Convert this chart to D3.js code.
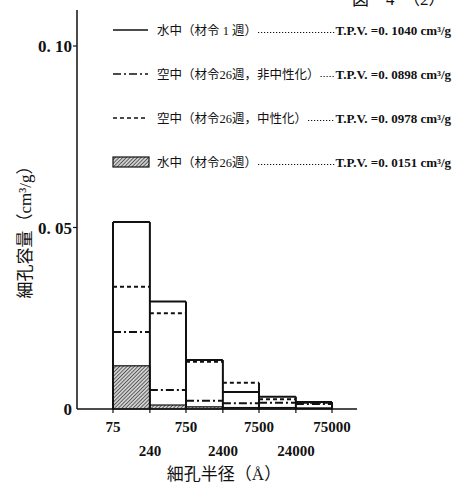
<!DOCTYPE html>
<html>
<head>
<meta charset="utf-8">
<script src="https://cdn.jsdelivr.net/npm/d3@7"></script>
<style>
  body { margin: 0; background: #fff; }
  text { font-family: "Liberation Serif", "Noto Sans CJK JP", serif; fill: #111; }
  .num { font-weight: bold; }
</style>
</head>
<body>
<svg id="chart" width="452" height="486"></svg>
<script>
// bin edges (pore radius, A)
var edges = [75, 240, 750, 2400, 7500, 24000, 75000];
var edgeLabels = ['75', '240', '750', '2400', '7500', '24000', '75000'];

// pore volume per bin (cm3/g)
var water1w = [0.0515, 0.0296, 0.0135, 0.0047, 0.0034, 0.0019];
var airNonNeutral = [0.0212, 0.0052, 0.0023, 0.0016, 0.0017, 0.0014];
var airNeutral = [0.0337, 0.0264, 0.0130, 0.0072, 0.0027, 0.0017];
var water26w = [0.0119, 0.0011, 0.0006, 0.0004, 0.0004, 0.0003];

var yTicks = [0, 0.05, 0.10];
var yTickLabels = ['0', '0. 05', '0. 10'];

var legendNames = ['水中（材令 1 週）', '空中（材令26週，非中性化）', '空中（材令26週，中性化）', '水中（材令26週）'];
var legendTPV = ['T.P.V. =0. 1040 cm³/g', 'T.P.V. =0. 0898 cm³/g', 'T.P.V. =0. 0978 cm³/g', 'T.P.V. =0. 0151 cm³/g'];

var svg = d3.select('#chart');

var x = d3.scaleLog().domain([75, 75000]).range([113, 332]);
var y = d3.scaleLinear().domain([0, 0.1]).range([409, 46]);

var defs = svg.append('defs');
var pat = defs.append('pattern')
  .attr('id', 'hatch')
  .attr('patternUnits', 'userSpaceOnUse')
  .attr('width', 2.6).attr('height', 2.6)
  .attr('patternTransform', 'rotate(45)');
pat.append('rect').attr('width', 2.6).attr('height', 2.6).attr('fill', '#cfcfcf');
pat.append('line').attr('x1', 0).attr('y1', 0).attr('x2', 0).attr('y2', 2.6)
  .attr('stroke', '#2a2a2a').attr('stroke-width', 1.3);

var series = [
  { values: water1w, dash: null },
  { values: airNonNeutral, dash: '8,3,2,3' },
  { values: airNeutral, dash: '4,3' }
];

var bins = d3.range(edges.length - 1).map(function(i) {
  return {
    x0: edges[i], x1: edges[i + 1],
    top: d3.max(series, function(s) { return s.values[i]; })
  };
});

// hatched bars
svg.selectAll('rect.hatch')
  .data(water26w)
  .enter().append('rect')
    .attr('class', 'hatch')
    .attr('x', function(d, i) { return x(edges[i]); })
    .attr('width', function(d, i) { return x(edges[i + 1]) - x(edges[i]); })
    .attr('y', function(d) { return y(d); })
    .attr('height', function(d) { return y(0) - y(d); })
    .attr('fill', 'url(#hatch)')
    .attr('stroke', '#111')
    .attr('stroke-width', 1.2);

// vertical bin sides
svg.selectAll('line.side')
  .data(edges)
  .enter().append('line')
    .attr('class', 'side')
    .attr('x1', function(d) { return x(d); })
    .attr('x2', function(d) { return x(d); })
    .attr('y1', y(0))
    .attr('y2', function(d, i) {
      var l = bins[i - 1] ? bins[i - 1].top : 0
        , r = bins[i] ? bins[i].top : 0;
      return y(Math.max(l, r));
    })
    .attr('stroke', '#111')
    .attr('stroke-width', 2);

// horizontal levels for each series
series.forEach(function(s) {
  svg.append('g').selectAll('line')
    .data(s.values)
    .enter().append('line')
      .attr('x1', function(d, i) { return x(edges[i]); })
      .attr('x2', function(d, i) { return x(edges[i + 1]); })
      .attr('y1', function(d) { return y(d); })
      .attr('y2', function(d) { return y(d); })
      .attr('stroke', '#111')
      .attr('stroke-width', 2)
      .attr('stroke-dasharray', s.dash);
});

// axes
svg.append('line')
  .attr('x1', 77).attr('x2', 77).attr('y1', 10).attr('y2', y(0))
  .attr('stroke', '#111').attr('stroke-width', 1.5);
svg.append('line')
  .attr('x1', 77).attr('x2', 357).attr('y1', y(0)).attr('y2', y(0))
  .attr('stroke', '#111').attr('stroke-width', 1.5);

svg.selectAll('line.ytick')
  .data(yTicks.slice(1))
  .enter().append('line')
    .attr('x1', 73).attr('x2', 77)
    .attr('y1', y).attr('y2', y)
    .attr('stroke', '#111').attr('stroke-width', 1.2);

svg.selectAll('text.ylab')
  .data(yTicks)
  .enter().append('text')
    .attr('class', 'num')
    .attr('x', 72)
    .attr('y', function(d) { return y(d) + 6; })
    .attr('text-anchor', 'end')
    .style('font-size', '17px')
    .text(function(d, i) { return yTickLabels[i]; });

svg.selectAll('line.xtick')
  .data(edges)
  .enter().append('line')
    .attr('x1', x).attr('x2', x)
    .attr('y1', y(0)).attr('y2', y(0) + 4)
    .attr('stroke', '#111').attr('stroke-width', 1.2);

svg.selectAll('text.xlab')
  .data(edges)
  .enter().append('text')
    .attr('class', 'num')
    .attr('x', x)
    .attr('y', function(d, i) { return i % 2 ? 456 : 432; })
    .attr('text-anchor', 'middle')
    .style('font-size', '15px')
    .text(function(d, i) { return edgeLabels[i]; });

svg.append('text')
  .attr('x', 224).attr('y', 480)
  .attr('text-anchor', 'middle')
  .style('font-size', '17px')
  .text('細孔半径（Å）');

svg.append('text')
  .attr('transform', 'translate(31,228) rotate(-90)')
  .attr('text-anchor', 'middle')
  .style('font-size', '17px')
  .text('細孔容量（cm³/g）');

// title fragment, cut at the top
svg.append('text')
  .attr('x', 352).attr('y', 5)
  .style('font-size', '17px')
  .text('図　4　（2）');

// legend
var rowY = [30, 74, 118, 162];
var lg = svg.selectAll('g.legend')
  .data(legendNames)
  .enter().append('g')
    .attr('class', 'legend')
    .attr('transform', function(d, i) { return 'translate(0,' + rowY[i] + ')'; });

lg.each(function(d, i) {
  var g = d3.select(this);
  if (i < 3) {
    g.append('line')
      .attr('x1', 113).attr('x2', 148).attr('y1', 0).attr('y2', 0)
      .attr('stroke', '#111').attr('stroke-width', 1.5)
      .attr('stroke-dasharray', series[i].dash);
  } else {
    g.append('rect')
      .attr('x', 113).attr('y', -5).attr('width', 36).attr('height', 10)
      .attr('fill', 'url(#hatch)').attr('stroke', '#111').attr('stroke-width', 1.2);
  }
  var name = g.append('text')
    .attr('x', 157).attr('y', 4.5)
    .style('font-size', '12.5px')
    .text(d);
  var tpv = g.append('text')
    .attr('class', 'num')
    .attr('x', 451).attr('y', 4.5)
    .attr('text-anchor', 'end')
    .style('font-size', '13px')
    .text(legendTPV[i]);
  var a = name.node().getBBox(), b = tpv.node().getBBox();
  g.append('line')
    .attr('x1', a.x + a.width + 1).attr('x2', b.x - 1)
    .attr('y1', 2.5).attr('y2', 2.5)
    .attr('stroke', '#111').attr('stroke-width', 1.2)
    .attr('stroke-dasharray', '1.2,1.8');
});
</script>
</body>
</html>
